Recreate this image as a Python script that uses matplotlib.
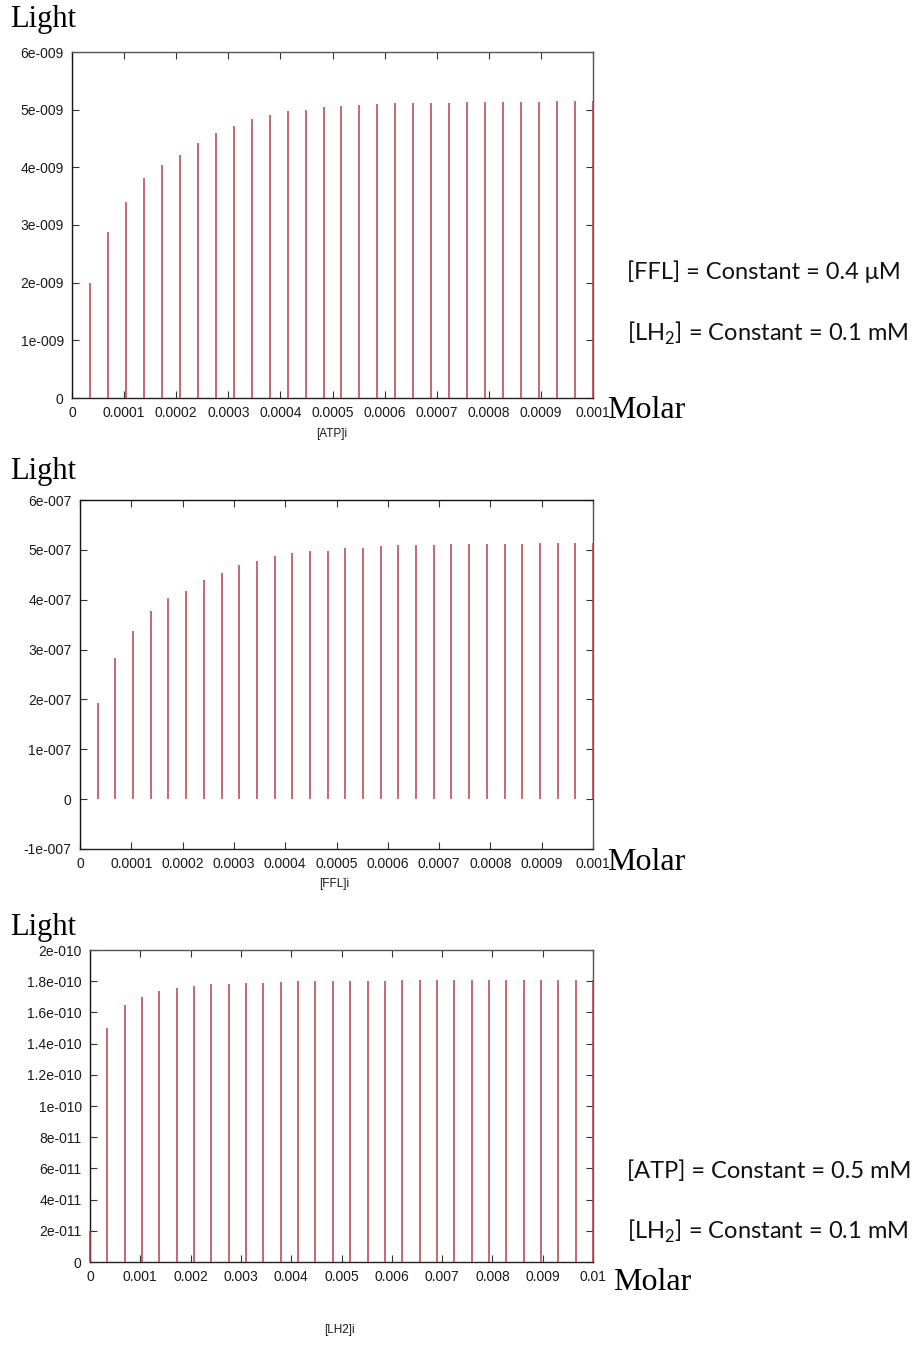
import numpy as np
import matplotlib.pyplot as plt

plt.rcParams['mathtext.fontset'] = 'custom'
plt.rcParams['mathtext.rm'] = 'Lato'

# x grid: 30 points from 0 to xmax
n = 30
atp_x = np.linspace(0, 0.001, n)
ffl_x = np.linspace(0, 0.001, n)
lh2_x = np.linspace(0, 0.01, n)

# light output
atp_light = np.array([0, 2.00, 2.87, 3.40, 3.81, 4.04, 4.22, 4.43, 4.60, 4.72, 4.83, 4.90, 4.97, 5.00, 5.05,
                      5.07, 5.08, 5.10, 5.11, 5.11, 5.12, 5.12, 5.13, 5.13, 5.14, 5.14, 5.14, 5.15, 5.15, 5.15]) * 1e-9
ffl_light = np.array([0, 1.92, 2.83, 3.37, 3.77, 4.04, 4.18, 4.40, 4.54, 4.70, 4.78, 4.88, 4.93, 4.97, 4.98,
                      5.04, 5.04, 5.07, 5.09, 5.10, 5.10, 5.11, 5.11, 5.12, 5.12, 5.12, 5.13, 5.13, 5.13, 5.14]) * 1e-7
lh2_light = np.array([0.20, 1.50, 1.645, 1.70, 1.735, 1.758, 1.77, 1.78, 1.785, 1.79, 1.79, 1.793, 1.80, 1.80, 1.80,
                      1.80, 1.803, 1.803, 1.805, 1.805, 1.805, 1.806, 1.806, 1.807, 1.807, 1.808, 1.808, 1.808, 1.809, 1.809]) * 1e-10

atp_xticks = np.arange(0, 11) * 0.0001
atp_xlabels = ['0', '0.0001', '0.0002', '0.0003', '0.0004', '0.0005', '0.0006', '0.0007', '0.0008', '0.0009', '0.001']
atp_yticks = np.arange(0, 7) * 1e-9
atp_ylabels = ['0', '1e-009', '2e-009', '3e-009', '4e-009', '5e-009', '6e-009']

ffl_yticks = np.arange(-1, 7) * 1e-7
ffl_ylabels = ['-1e-007', '0', '1e-007', '2e-007', '3e-007', '4e-007', '5e-007', '6e-007']

lh2_xticks = np.arange(0, 11) * 0.001
lh2_xlabels = ['0', '0.001', '0.002', '0.003', '0.004', '0.005', '0.006', '0.007', '0.008', '0.009', '0.01']
lh2_yticks = np.arange(0, 11) * 2e-11
lh2_ylabels = ['0', '2e-011', '4e-011', '6e-011', '8e-011', '1e-010', '1.2e-010', '1.4e-010',
               '1.6e-010', '1.8e-010', '2e-010']

W, H = 922, 1352
fig = plt.figure(figsize=(W / 100, H / 100), dpi=100)
fig.patch.set_facecolor('white')

stem_col = '#b4404a'
tick_font = dict(family='Liberation Sans', size=10, color='#1a1a1a')
serif = 'Liberation Serif'
note_font = ['Lato', 'DejaVu Sans']


def box(l, t, r, b):
    return [l / W, 1 - b / H, (r - l) / W, (b - t) / H]


def panel(rect, x, y, xlim, ylim, xt, xl, yt, yl):
    ax = fig.add_axes(rect)
    ax.vlines(x, 0, y, colors=stem_col, lw=1.1, zorder=3, clip_on=False)
    ax.set_xlim(*xlim)
    ax.set_ylim(*ylim)
    ax.set_xticks(xt)
    ax.set_xticklabels(xl, fontdict=tick_font)
    ax.set_yticks(yt)
    ax.set_yticklabels(yl, fontdict=tick_font)
    ax.tick_params(direction='in', length=5, width=0.8, color='#333333',
                   top=True, right=True, pad=6)
    for s in ax.spines.values():
        s.set_color('#555555')
        s.set_linewidth(1.0)
    ax.spines['left'].set_color('#111111')
    ax.spines['bottom'].set_color('#222222')
    return ax


ax1 = panel(box(72, 52, 593, 398), atp_x, atp_light, (0, 0.001), (0, 6e-9),
            atp_xticks, atp_xlabels, atp_yticks, atp_ylabels)
ax2 = panel(box(80, 500, 593, 849), ffl_x, ffl_light, (0, 0.001), (-1e-7, 6e-7),
            atp_xticks, atp_xlabels, ffl_yticks, ffl_ylabels)
ax3 = panel(box(90, 950, 593, 1262), lh2_x, lh2_light, (0, 0.01), (0, 2e-10),
            lh2_xticks, lh2_xlabels, lh2_yticks, lh2_ylabels)
ax2.spines['top'].set_color('#111111')

# axis names under each panel
for xx, yy, s in ((332, 434, '[ATP]i'), (334, 884, '[FFL]i'), (339, 1330, '[LH2]i')):
    fig.text(xx / W, 1 - yy / H, s, family='Liberation Sans', size=8.5, color='#1a1a1a',
             ha='center', va='center')

# "Light" and "Molar" labels
for yy in (20, 472, 927):
    fig.text(10 / W, 1 - yy / H, 'Light', family=serif, size=22, va='center', ha='left')
for xx, yy in ((607, 410), (607, 862), (613, 1283)):
    fig.text(xx / W, 1 - yy / H, 'Molar', family=serif, size=23, va='center', ha='left')

# constant-condition notes
notes = [(272, '[FFL] = Constant = 0.4 \u03bcM'),
         (333, '[LH$_2$] = Constant = 0.1 mM'),
         (1171, '[ATP] = Constant = 0.5 mM'),
         (1231, '[LH$_2$] = Constant = 0.1 mM')]
for yy, s in notes:
    fig.text(627 / W, 1 - yy / H, s, family=note_font, size=17, va='center', ha='left', color='#111111')

fig.savefig('out.png', dpi=100, facecolor='white')
